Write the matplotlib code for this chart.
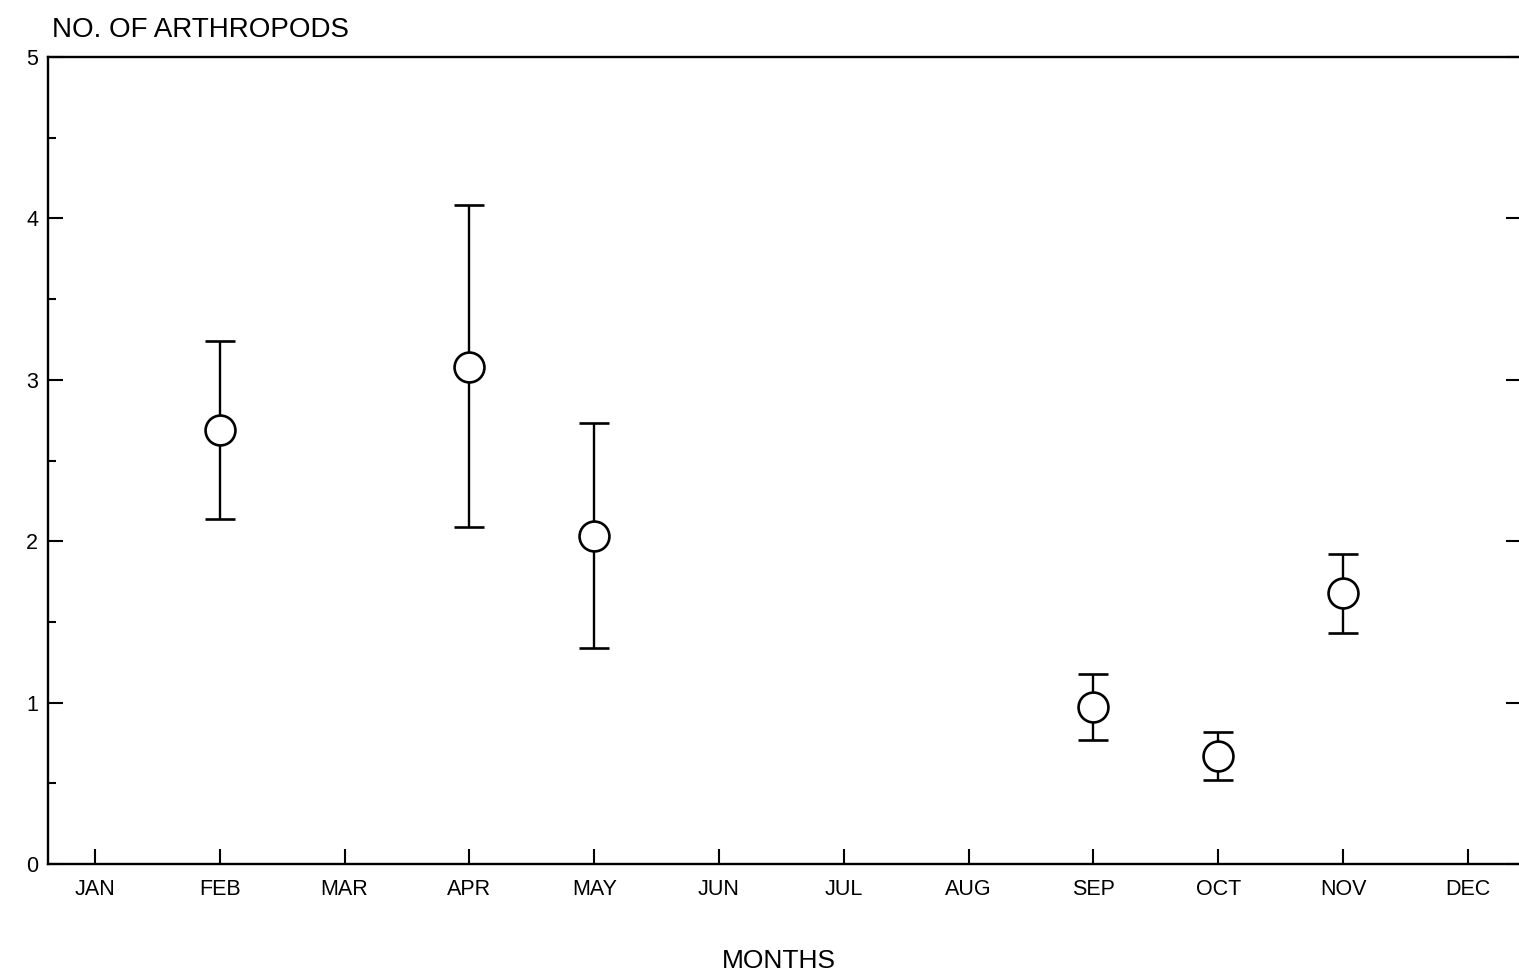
import matplotlib
matplotlib.use("Agg")
import matplotlib.pyplot as plt
import numpy as np

months = ["JAN", "FEB", "MAR", "APR", "MAY", "JUN", "JUL", "AUG", "SEP", "OCT", "NOV", "DEC"]
obs_months = ["FEB", "APR", "MAY", "SEP", "OCT", "NOV"]
means = [2.69, 3.08, 2.03, 0.97, 0.67, 1.68]
upper = [3.24, 4.08, 2.73, 1.18, 0.82, 1.92]
lower = [2.14, 2.09, 1.34, 0.77, 0.52, 1.43]
y_ticks = [0, 1, 2, 3, 4, 5]

plt.rcParams['font.family'] = ['Liberation Sans', 'DejaVu Sans']

W, H = 1519, 975
fig = plt.figure(figsize=(W / 100, H / 100), dpi=100)
ax = fig.add_axes([48 / W, (H - 864) / H, (1521 - 48) / W, (864 - 57) / H])

xpos = [months.index(m) for m in obs_months]
m = np.array(means)
yerr = [m - np.array(lower), np.array(upper) - m]
ax.errorbar(xpos, means, yerr=yerr, fmt='o', color='black', ecolor='black',
            markerfacecolor='white', markeredgecolor='black', markersize=21.5,
            markeredgewidth=1.9, elinewidth=1.7, capsize=11, capthick=1.7, zorder=3)

ax.set_xlim((48 - 95) / 124.8, (1521 - 95) / 124.8)
ax.set_ylim(0, 5)
ax.set_xticks(range(len(months)))
ax.set_xticklabels(months)
ax.set_yticks(y_ticks)
ax.set_yticks(np.arange(0.5, 5, 1.0), minor=True)

for s in ax.spines.values():
    s.set_linewidth(1.7)

ax.tick_params(axis='x', direction='in', length=11, width=1.5, pad=11, labelsize=15.5)
ax.tick_params(axis='y', which='major', direction='in', length=11, width=1.5, pad=7, labelsize=15.5,
               right=True)
ax.tick_params(axis='y', which='minor', direction='in', length=6, width=1.5, right=False)
ax.tick_params(axis='y', which='major', labelright=False)

fig.text(52 / W, 1 - 37 / H, "NO. OF ARTHROPODS", fontsize=20, va='baseline', ha='left')
fig.text(779 / W, 1 - 968 / H, "MONTHS", fontsize=19, va='baseline', ha='center')

fig.savefig("out.png", dpi=100)
